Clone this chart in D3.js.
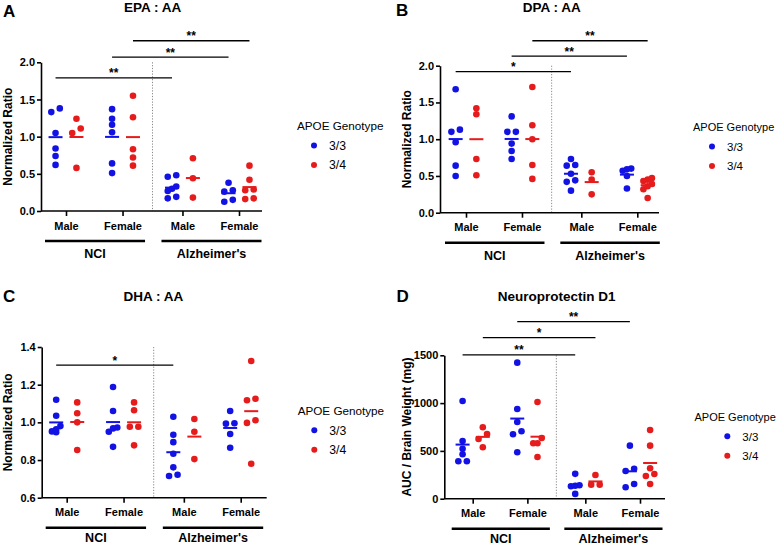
<!DOCTYPE html>
<html>
<head>
<meta charset="utf-8">
<script src="https://cdn.jsdelivr.net/npm/d3@7"></script>
<style>
  body { margin: 0; background: #fff; }
  text { font-family: Arial, "Liberation Sans", sans-serif; }
</style>
</head>
<body>
<svg width="777" height="547"></svg>
<script>
// categories on the x axis, grouped by cohort
const categories = ["Male", "Female", "Male", "Female"];
const cohorts = ["NCI", "Alzheimer's"];
const genotypes = ["3/3", "3/4"];
const colors = ["#1212e4", "#e61c1c"];

// EPA : AA  (one list per category: NCI male, NCI female, AD male, AD female)
const epa33 = [[1.33, 1.38, 1.05, 0.84, 0.74, 0.62], [1.37, 1.24, 1.16, 1.06, 0.64, 0.51],
               [0.46, 0.48, 0.33, 0.30, 0.27, 0.17, 0.19], [0.38, 0.26, 0.28, 0.125, 0.15]];
const epa34 = [[1.24, 1.11, 1.05, 0.58], [1.55, 1.26, 0.83, 0.72, 0.61],
               [0.71, 0.44, 0.18], [0.61, 0.42, 0.28, 0.29, 0.16, 0.17]];
// DPA : AA
const dpa33 = [[1.68, 1.13, 1.10, 0.96, 0.64, 0.50], [1.31, 1.10, 1.10, 0.94, 0.84, 0.73],
               [0.73, 0.64, 0.65, 0.53, 0.44, 0.42, 0.30], [0.59, 0.60, 0.57, 0.50, 0.33]];
const dpa34 = [[1.42, 1.34, 0.73, 0.51], [1.71, 1.19, 1.0, 0.65, 0.46],
               [0.55, 0.45, 0.25], [0.47, 0.45, 0.43, 0.39, 0.36, 0.32, 0.20]];
// DHA : AA
const dha33 = [[1.12, 1.035, 0.98, 0.963, 0.952, 0.948], [1.188, 1.06, 0.973, 0.95, 0.968, 0.87],
               [1.03, 0.934, 0.895, 0.833, 0.761, 0.715, 0.722], [1.06, 0.993, 0.995, 0.938, 0.865]];
const dha34 = [[1.106, 1.048, 1.0, 0.853], [1.106, 1.064, 0.977, 0.977, 0.878],
               [1.018, 0.95, 0.805], [1.326, 1.125, 1.117, 1.011, 0.997, 0.78]];
// Neuroprotectin D1
const npd33 = [[1022, 604, 523, 465, 391, 391], [1423, 939, 803, 705, 674, 486],
               [260, 140, 135, 130, 50], [555, 314, 290, 154, 119]];
const npd34 = [[747, 677, 625, 538], [1012, 635, 580, 580, 436],
               [248, 147, 147], [719, 555, 318, 258, 237, 154]];

// significance bars: [from category, from genotype, to category, to genotype, level, label]
const epaSig = [[0, 0, 2, 0, 1.79, "**"], [1, 0, 3, 0, 2.07, "**"], [1, 1, 3, 1, 2.29, "**"]];
const dpaSig = [[0, 0, 2, 0, 1.92, "*"], [1, 0, 3, 0, 2.13, "**"], [1, 1, 3, 1, 2.34, "**"]];
const dhaSig = [[0, 0, 2, 0, 1.304, "*"]];
const npdSig = [[0, 0, 2, 0, 1504, "**"], [0, 1, 2, 1, 1685, "*"], [1, 0, 3, 0, 1852, "**"]];

const ratioTicks = [0, 0.5, 1.0, 1.5, 2.0];
const dhaTicks = [0.6, 0.8, 1.0, 1.2, 1.4];
const npdTicks = [0, 500, 1000, 1500];

const panels = [
  { letter: "A", title: "EPA : AA", ylabel: "Normalized Ratio", data: [epa33, epa34], sig: epaSig,
    yDomain: [0, 2], yTicks: ratioTicks, fmt: ".1f",
    box: { left: 41, right: 262, t0: 66, t3: 239, top: 62.3, bottom: 211 },
    letterPos: [3, 16.5], titlePos: [152.5, 12], ylabX: 8, legend: [297, 126, 314, 11.7], groupY: 47 },
  { letter: "B", title: "DPA : AA", ylabel: "Normalized Ratio", data: [dpa33, dpa34], sig: dpaSig,
    yDomain: [0, 2], yTicks: ratioTicks, fmt: ".1f",
    box: { left: 440, right: 659, t0: 466, t3: 637.3, top: 65.7, bottom: 212.7 },
    letterPos: [396, 16], titlePos: [551.7, 12], ylabX: 407, legend: [693, 127, 712, 11], groupY: 47 },
  { letter: "C", title: "DHA : AA", ylabel: "Normalized Ratio", data: [dha33, dha34], sig: dhaSig,
    yDomain: [0.6, 1.4], yTicks: dhaTicks, fmt: ".1f",
    box: { left: 41.7, right: 266.7, t0: 66.7, t3: 240.7, top: 347, bottom: 497.7 },
    letterPos: [3, 301.5], titlePos: [153.3, 300.5], ylabX: 8, legend: [297.7, 410.7, 314.3, 11.7], groupY: 44.5 },
  { letter: "D", title: "Neuroprotectin D1", ylabel: "AUC / Brain Weight (mg)", data: [npd33, npd34], sig: npdSig,
    yDomain: [0, 1500], yTicks: npdTicks, fmt: "d",
    box: { left: 444.3, right: 665, t0: 472.7, t3: 640, top: 355.3, bottom: 498.7 },
    letterPos: [396.5, 302], titlePos: [556.7, 300.5], ylabX: 407, legend: [694.5, 416.7, 727.3, 11], groupY: 44 }
];

const svg = d3.select("svg");
const catPos = [0, 1, 2.06, 3.06]; // a little extra gap between cohorts
const r = 3.3;

// GraphPad-like scatter: points close in y share a row and spread sideways
function spread(vals, y, cx) {
  const pts = vals.map(v => ({ v, py: y(v) })).sort((a, b) => a.py - b.py);
  const rows = [];
  pts.forEach(p => {
    const last = rows[rows.length - 1];
    if (last && p.py - last[0].py < 5.5) last.push(p);
    else rows.push([p]);
  });
  rows.forEach(row => {
    row.sort((a, b) => a.v - b.v);
    const n = row.length;
    row.forEach((p, i) => { p.px = n === 1 ? cx : cx - 4.25 + i * 8.5 / (n - 1); });
  });
  return pts;
}

panels.forEach(p => {
  const b = p.box;
  const g = svg.append("g");
  const x = d3.scaleLinear().domain([0, 3.06]).range([b.t0, b.t3]);
  const unit = (b.t3 - b.t0) / 3.06;
  const sub = [-0.185 * unit, 0.185 * unit];
  const y = d3.scaleLinear().domain(p.yDomain).range([b.bottom, b.top]);
  const xs = (c, k) => x(catPos[c]) + sub[k];

  // panel letter + title
  g.append("text").attr("x", p.letterPos[0]).attr("y", p.letterPos[1])
    .attr("font-size", 17).attr("font-weight", "bold").text(p.letter);
  g.append("text").attr("x", p.titlePos[0]).attr("y", p.titlePos[1])
    .attr("text-anchor", "middle").attr("font-size", 13.5).attr("font-weight", "bold").text(p.title);

  // dotted separator between cohorts
  const sepX = x((catPos[1] + catPos[2]) / 2);
  g.append("line").attr("x1", sepX).attr("x2", sepX).attr("y1", b.top).attr("y2", b.bottom)
    .attr("stroke", "#888").attr("stroke-width", 1).attr("stroke-dasharray", "1.2,1.6");

  // y axis
  const yAxis = g.append("g").attr("transform", `translate(${b.left},0)`)
    .call(d3.axisLeft(y).tickValues(p.yTicks).tickFormat(d3.format(p.fmt)).tickSize(4).tickPadding(2).tickSizeOuter(0));
  // x axis
  const xAxis = g.append("g").attr("transform", `translate(0,${b.bottom})`)
    .call(d3.axisBottom(x).tickValues(catPos).tickFormat((d, i) => categories[i]).tickSize(5).tickPadding(6))
    .call(a => a.select(".domain").remove());
  g.append("line").attr("x1", b.left).attr("x2", b.right).attr("y1", b.bottom).attr("y2", b.bottom)
    .attr("stroke", "#000").attr("stroke-width", 1.6);
  [yAxis, xAxis].forEach(a => {
    a.selectAll("path,line").attr("stroke", "#000").attr("stroke-width", 1.6);
    a.selectAll("text").attr("fill", "#000").attr("font-size", 11).attr("font-weight", "bold")
      .attr("font-family", "Arial, 'Liberation Sans', sans-serif");
  });

  // y label
  g.append("text")
    .attr("transform", `translate(${p.ylabX},${(b.top + b.bottom) / 2}) rotate(-90)`)
    .attr("text-anchor", "middle").attr("dy", "0.35em")
    .attr("font-size", 12).attr("font-weight", "bold").text(p.ylabel);

  // cohort brackets
  cohorts.forEach((c, j) => {
    const x1 = x(catPos[2 * j]) - 21, x2 = x(catPos[2 * j + 1]) + 22.5;
    g.append("line").attr("x1", x1).attr("x2", x2).attr("y1", b.bottom + 30).attr("y2", b.bottom + 30)
      .attr("stroke", "#000").attr("stroke-width", 2.6);
    g.append("text").attr("x", (x1 + x2) / 2).attr("y", b.bottom + p.groupY)
      .attr("text-anchor", "middle").attr("font-size", 12.5).attr("font-weight", "bold").text(c);
  });

  // points + mean lines
  p.data.forEach((series, k) => {
    series.forEach((vals, c) => {
      const cx = xs(c, k);
      g.selectAll(null).data(spread(vals, y, cx)).join("circle")
        .attr("cx", d => d.px).attr("cy", d => d.py).attr("r", r).attr("fill", colors[k]);
      const m = y(d3.mean(vals));
      g.append("line").attr("x1", cx - 7).attr("x2", cx + 7).attr("y1", m).attr("y2", m)
        .attr("stroke", colors[k]).attr("stroke-width", 2);
    });
  });

  // significance bars
  p.sig.forEach(([c1, k1, c2, k2, lv, lab]) => {
    const x1 = xs(c1, k1), x2 = xs(c2, k2), yy = y(lv);
    g.append("line").attr("x1", x1).attr("x2", x2).attr("y1", yy).attr("y2", yy)
      .attr("stroke", "#000").attr("stroke-width", 1.4);
    g.append("text").attr("x", (x1 + x2) / 2).attr("y", yy - 0.5)
      .attr("text-anchor", "middle").attr("font-size", 12).attr("font-weight", "bold").text(lab);
  });

  // legend
  const [lx, ly, dx, fs] = p.legend;
  g.append("text").attr("x", lx).attr("y", ly + 4.3).attr("font-size", fs).text("APOE Genotype");
  genotypes.forEach((gt, k) => {
    const cy = ly + 19.5 + k * 19.5;
    g.append("circle").attr("cx", dx).attr("cy", cy).attr("r", 3).attr("fill", colors[k]);
    g.append("text").attr("x", dx + 15).attr("y", cy + 4.3).attr("font-size", fs + 0.5).text(gt);
  });
});
</script>
</body>
</html>
